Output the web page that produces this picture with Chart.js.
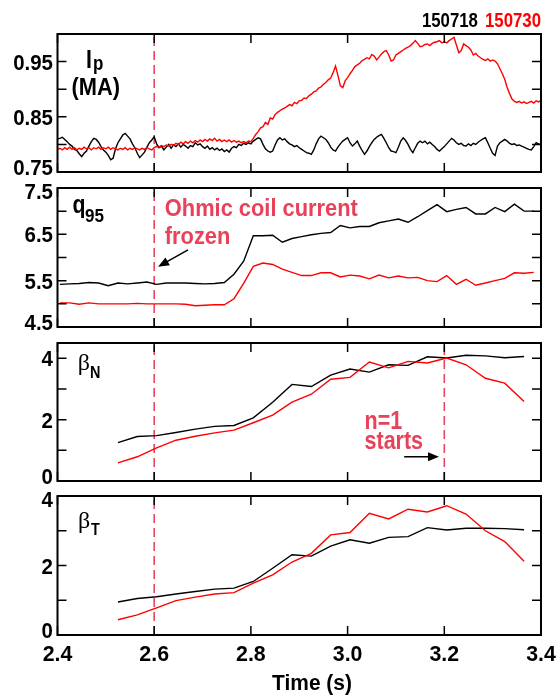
<!DOCTYPE html>
<html>
<head>
<meta charset="utf-8">
<script src="https://cdn.jsdelivr.net/npm/chart.js@4.4.1/dist/chart.umd.min.js"></script>
<style>
  body { margin: 0; background: #fff; width: 560px; height: 697px; position: relative; overflow: hidden; }
  canvas { position: absolute; left: 0; }
</style>
</head>
<body>
<canvas id="cIp" width="560" height="180" style="top:0px"></canvas>
<canvas id="cQ95" width="560" height="155" style="top:180px"></canvas>
<canvas id="cBetaN" width="560" height="153" style="top:335px"></canvas>
<canvas id="cBetaT" width="560" height="209" style="top:488px"></canvas>
<script>
// Ip (MA), sampled every 5 ms from 2.400 s
const ipStart = 2.4;
const ipStep = 0.005;
const ip150718 = [
  0.810, 0.811, 0.813, 0.809, 0.805, 0.800, 0.797, 0.791, 0.789, 0.783,
  0.778, 0.784, 0.788, 0.797, 0.805, 0.811, 0.809, 0.804, 0.796, 0.790,
  0.786, 0.780, 0.772, 0.775, 0.792, 0.803, 0.810, 0.817, 0.820, 0.815,
  0.810, 0.801, 0.794, 0.784, 0.776, 0.781, 0.786, 0.795, 0.803, 0.808,
  0.814, 0.801, 0.794, 0.797, 0.790, 0.795, 0.800, 0.793, 0.799, 0.796,
  0.801, 0.795, 0.800, 0.797, 0.793, 0.798, 0.796, 0.803, 0.799, 0.801,
  0.796, 0.793, 0.797, 0.791, 0.794, 0.790, 0.793, 0.789, 0.792, 0.787,
  0.790, 0.786, 0.793, 0.796, 0.794, 0.800, 0.798, 0.802, 0.800, 0.803,
  0.801, 0.806, 0.809, 0.812, 0.810, 0.800, 0.792, 0.788, 0.786, 0.788,
  0.799, 0.808, 0.812, 0.808, 0.810, 0.805, 0.801, 0.799, 0.796, 0.798,
  0.794, 0.791, 0.788, 0.785, 0.784, 0.782, 0.790, 0.801, 0.810, 0.815,
  0.812, 0.809, 0.803, 0.795, 0.790, 0.788, 0.795, 0.801, 0.806, 0.809,
  0.812, 0.803, 0.797, 0.801, 0.806, 0.797, 0.789, 0.782, 0.788, 0.796,
  0.803, 0.809, 0.813, 0.816, 0.818, 0.811, 0.803, 0.794, 0.788, 0.787,
  0.785, 0.795, 0.806, 0.812, 0.807, 0.800, 0.791, 0.785, 0.794, 0.802,
  0.806, 0.803, 0.806, 0.801, 0.804, 0.800, 0.796, 0.791, 0.788, 0.792,
  0.796, 0.801, 0.806, 0.811, 0.808, 0.803, 0.800, 0.802, 0.798, 0.797,
  0.801, 0.798, 0.802, 0.800, 0.804, 0.807, 0.810, 0.812, 0.803, 0.793,
  0.784, 0.780, 0.797, 0.803, 0.806, 0.809, 0.806, 0.802, 0.800, 0.801,
  0.798, 0.799, 0.797, 0.795, 0.793, 0.791, 0.790, 0.796, 0.803, 0.801,
  0.800
];
const ip150730 = [
  0.791, 0.793, 0.790, 0.794, 0.791, 0.795, 0.791, 0.794, 0.790, 0.793,
  0.791, 0.795, 0.792, 0.794, 0.790, 0.794, 0.792, 0.795, 0.791, 0.794,
  0.792, 0.795, 0.791, 0.794, 0.792, 0.790, 0.793, 0.791, 0.794, 0.790,
  0.793, 0.791, 0.794, 0.792, 0.790, 0.793, 0.791, 0.794, 0.792, 0.790,
  0.794, 0.796, 0.795, 0.798, 0.796, 0.799, 0.797, 0.800, 0.798, 0.802,
  0.800, 0.804, 0.801, 0.805, 0.802, 0.806, 0.803, 0.807, 0.804, 0.808,
  0.805, 0.809, 0.806, 0.810, 0.807, 0.811, 0.806, 0.809, 0.805, 0.808,
  0.805, 0.808, 0.804, 0.807, 0.804, 0.806, 0.803, 0.805, 0.803, 0.806,
  0.805, 0.811, 0.818, 0.823, 0.830, 0.832, 0.840, 0.836, 0.848, 0.846,
  0.854, 0.858, 0.861, 0.864, 0.866, 0.869, 0.872, 0.870, 0.876, 0.874,
  0.879, 0.880, 0.884, 0.883, 0.888, 0.891, 0.895, 0.897, 0.902, 0.904,
  0.909, 0.912, 0.917, 0.920, 0.930, 0.942, 0.925, 0.906, 0.903, 0.915,
  0.921, 0.928, 0.934, 0.941, 0.944, 0.947, 0.952, 0.954, 0.957, 0.955,
  0.963, 0.960, 0.953, 0.958, 0.964, 0.968, 0.970, 0.962, 0.951, 0.953,
  0.962, 0.965, 0.968, 0.971, 0.974, 0.976, 0.979, 0.983, 0.988, 0.983,
  0.977, 0.978, 0.981, 0.982, 0.979, 0.983, 0.985, 0.986, 0.988, 0.984,
  0.986, 0.984, 0.988, 0.991, 0.994, 0.980, 0.966, 0.970, 0.982, 0.979,
  0.976, 0.971, 0.962, 0.965, 0.960, 0.957, 0.954, 0.952, 0.955, 0.951,
  0.953, 0.951, 0.946, 0.937, 0.928, 0.918, 0.903, 0.892, 0.882, 0.878,
  0.876, 0.878, 0.875, 0.877, 0.874, 0.876, 0.878, 0.875, 0.879, 0.877,
  0.880
];

// q95
const q95Time = [
  2.405, 2.425, 2.445, 2.465, 2.485, 2.505, 2.525, 2.545, 2.565, 2.585,
  2.605, 2.625, 2.645, 2.665, 2.685, 2.705, 2.725, 2.745, 2.765, 2.785,
  2.805, 2.825, 2.845, 2.865, 2.885, 2.905, 2.925, 2.945, 2.965, 2.985,
  3.005, 3.025, 3.045, 3.065, 3.085, 3.105, 3.125, 3.145, 3.165, 3.185,
  3.205, 3.225, 3.245, 3.265, 3.285, 3.305, 3.325, 3.345, 3.365, 3.385
];
const q95_150718 = [
  5.42, 5.43, 5.44, 5.46, 5.45, 5.39, 5.45, 5.43, 5.45, 5.47,
  5.42, 5.45, 5.45, 5.45, 5.44, 5.43, 5.44, 5.46, 5.64, 5.92,
  6.47, 6.47, 6.48, 6.33, 6.41, 6.45, 6.49, 6.52, 6.54, 6.69,
  6.64, 6.67, 6.67, 6.75, 6.79, 6.83, 6.76, 6.88, 7.01, 7.14,
  6.99, 7.04, 7.08, 6.94, 6.94, 7.08, 6.99, 7.15, 7.00, 7.00
];
const q95_150730 = [
  5.02, 5.02, 4.99, 5.02, 5.00, 5.00, 5.00, 5.00, 5.01, 5.00,
  5.00, 5.00, 5.00, 4.99, 4.96, 4.97, 4.98, 4.98, 5.11, 5.44,
  5.81, 5.88, 5.85, 5.75, 5.68, 5.61, 5.61, 5.67, 5.67, 5.58,
  5.62, 5.60, 5.54, 5.62, 5.56, 5.60, 5.56, 5.57, 5.50, 5.48,
  5.61, 5.42, 5.53, 5.40, 5.45, 5.50, 5.55, 5.67, 5.66, 5.68
];

// beta_N and beta_T
const betaTime = [
  2.525, 2.565, 2.605, 2.645, 2.685, 2.725, 2.765, 2.805, 2.845, 2.885, 2.925,
  2.965, 3.005, 3.045, 3.085, 3.125, 3.165, 3.205, 3.245, 3.285, 3.325, 3.365
];
const betaN150718 = [1.25, 1.45, 1.48, 1.58, 1.69, 1.78, 1.81, 2.06, 2.57, 3.15, 3.08,
                     3.45, 3.65, 3.55, 3.79, 3.77, 4.05, 4.01, 4.10, 4.08, 4.02, 4.06];
const betaN150730 = [0.59, 0.79, 1.08, 1.33, 1.46, 1.57, 1.66, 1.90, 2.15, 2.57, 2.83,
                     3.32, 3.38, 3.88, 3.69, 3.90, 3.85, 4.01, 3.79, 3.35, 3.19, 2.59];
const betaT150718 = [0.95, 1.05, 1.10, 1.18, 1.25, 1.32, 1.35, 1.54, 1.92, 2.31, 2.27,
                     2.56, 2.74, 2.64, 2.81, 2.83, 3.09, 3.02, 3.07, 3.07, 3.06, 3.03];
const betaT150730 = [0.44, 0.58, 0.78, 0.99, 1.09, 1.18, 1.22, 1.49, 1.73, 2.10, 2.35,
                     2.88, 2.95, 3.50, 3.34, 3.62, 3.54, 3.72, 3.48, 3.00, 2.69, 2.12];

// axes
const xTicks = [2.4, 2.6, 2.8, 3.0, 3.2, 3.4];
const ipMajor = [0.75, 0.85, 0.95];
const ipMinor = [0.8, 0.9];
const q95Major = [4.5, 5.5, 6.5, 7.5];
const q95Minor = [5.0, 6.0, 7.0];
const betaMajor = [0, 2, 4];
const betaMinor = [1, 3];

const ohmicFrozenTime = 2.6;
const n1StartTime = 3.2;

const SANS = "'Liberation Sans', Arial, Helvetica, sans-serif";
const SERIF = "'Liberation Serif', 'Times New Roman', serif";
const RED = '#ff0000';
const MARK = '#e8475f';
const NOTE = '#e8415a';

function txt(ctx, s, x, y, size, color, align, sx, weight, family) {
  ctx.save();
  ctx.font = (weight || 'bold') + ' ' + size + 'px ' + (family || SANS);
  ctx.fillStyle = color;
  ctx.textAlign = align || 'left';
  ctx.textBaseline = 'alphabetic';
  ctx.translate(x, y);
  ctx.scale(sx || 1, 1);
  ctx.fillText(s, 0, 0);
  const w = ctx.measureText(s).width * (sx || 1);
  ctx.restore();
  return w;
}

function arrow(ctx, x1, y1, x2, y2) {
  const ang = Math.atan2(y2 - y1, x2 - x1);
  const hl = 11, hw = 4.5;
  ctx.save();
  ctx.strokeStyle = '#000';
  ctx.fillStyle = '#000';
  ctx.lineWidth = 1.5;
  ctx.beginPath();
  ctx.moveTo(x1, y1);
  ctx.lineTo(x2 - hl * 0.8 * Math.cos(ang), y2 - hl * 0.8 * Math.sin(ang));
  ctx.stroke();
  ctx.beginPath();
  ctx.moveTo(x2, y2);
  ctx.lineTo(x2 - hl * Math.cos(ang) + hw * Math.sin(ang), y2 - hl * Math.sin(ang) - hw * Math.cos(ang));
  ctx.lineTo(x2 - hl * Math.cos(ang) - hw * Math.sin(ang), y2 - hl * Math.sin(ang) + hw * Math.cos(ang));
  ctx.closePath();
  ctx.fill();
  ctx.restore();
}

// frame, inward ticks on all sides, tick labels, plus panel text
const decoPlugin = {
  id: 'deco',
  afterDraw(chart, args, o) {
    const ctx = chart.ctx;
    const a = chart.chartArea;
    const x = chart.scales.x, y = chart.scales.y;
    ctx.save();
    ctx.strokeStyle = '#000';
    ctx.lineWidth = 1.5;
    ctx.beginPath();
    o.major.concat(o.minor).forEach(v => {
      const py = y.getPixelForValue(v);
      ctx.moveTo(a.left, py); ctx.lineTo(a.left + 9, py);
      ctx.moveTo(a.right, py); ctx.lineTo(a.right - 9, py);
    });
    xTicks.forEach(v => {
      const px = x.getPixelForValue(v);
      ctx.moveTo(px, a.top); ctx.lineTo(px, a.top + 9);
      ctx.moveTo(px, a.bottom); ctx.lineTo(px, a.bottom - 9);
    });
    ctx.stroke();
    ctx.lineWidth = 2;
    ctx.strokeRect(a.left, a.top, a.right - a.left, a.bottom - a.top);
    ctx.restore();

    o.major.forEach(v => {
      let py = y.getPixelForValue(v);
      if (Math.abs(py - a.bottom) < 1) py -= 5;
      if (Math.abs(py - a.top) < 1) py += 3;
      txt(ctx, v.toFixed(o.digits), a.left - 4.5, py + 8, 22, '#000', 'right', 0.93);
    });

    if (o.showTime) {
      xTicks.forEach(v => {
        txt(ctx, v.toFixed(1), x.getPixelForValue(v), a.bottom + 26, 22, '#000', 'center', 0.97);
      });
      txt(ctx, 'Time (s)', 312, a.bottom + 55, 22, '#000', 'center', 0.95);
    }
    if (o.extra) o.extra(ctx, a, x, y);
  }
};
Chart.register(decoPlugin);

function ipXY(vals) {
  return vals.map((v, i) => ({ x: ipStart + i * ipStep, y: v }));
}
function xy(times, vals) {
  return times.map((t, i) => ({ x: t, y: vals[i] }));
}
function series(data, color, order) {
  return { data: data, borderColor: color, borderWidth: 1.4, pointRadius: 0, tension: 0, order: order };
}
function vline(t, lo, hi) {
  return { data: [{ x: t, y: lo }, { x: t, y: hi }], borderColor: MARK, borderWidth: 1.6,
           borderDash: [9, 5], pointRadius: 0, order: 2 };
}

function makePanel(id, datasets, ymin, ymax, pad, deco) {
  return new Chart(document.getElementById(id), {
    type: 'line',
    data: { datasets: datasets },
    options: {
      responsive: false,
      animation: false,
      events: [],
      layout: { padding: { left: 57.5, right: 19, top: pad[0], bottom: pad[1] } },
      scales: {
        x: { type: 'linear', min: 2.4, max: 3.4, display: false },
        y: { type: 'linear', min: ymin, max: ymax, display: false }
      },
      plugins: { legend: { display: false }, tooltip: { enabled: false }, deco: deco }
    }
  });
}

makePanel('cIp', [
  series(ipXY(ip150730), RED, 0),
  series(ipXY(ip150718), '#000', 1),
  vline(ohmicFrozenTime, 0.75, 1.0)
], 0.75, 1.0, [34, 8], {
  major: ipMajor, minor: ipMinor, digits: 2,
  extra(ctx, a) {
    const w = txt(ctx, '150730', a.right, a.top - 7, 20, RED, 'right', 0.84);
    txt(ctx, '150718', a.right - w - 7, a.top - 7, 20, '#000', 'right', 0.84);
    txt(ctx, 'I', a.left + 28.5, a.top + 34, 25, '#000', 'left', 0.85);
    txt(ctx, 'p', a.left + 35.5, a.top + 35.5, 20, '#000', 'left', 0.85);
    txt(ctx, '(MA)', a.left + 14, a.top + 61, 24, '#000', 'left', 0.91);
  }
});

makePanel('cQ95', [
  series(xy(q95Time, q95_150730), RED, 0),
  series(xy(q95Time, q95_150718), '#000', 1),
  vline(ohmicFrozenTime, 4.5, 7.5)
], 4.5, 7.5, [8, 8], {
  major: q95Major, minor: q95Minor, digits: 1,
  extra(ctx, a, x, y) {
    txt(ctx, 'q', a.left + 15, a.top + 25.3, 25, '#000', 'left', 0.85);
    txt(ctx, '95', a.left + 27.5, a.top + 33.7, 19, '#000', 'left', 0.9);
    txt(ctx, 'Ohmic coil current', x.getPixelForValue(2.622), y.getPixelForValue(6.885), 24, NOTE, 'left', 0.91);
    txt(ctx, 'frozen', x.getPixelForValue(2.622), y.getPixelForValue(6.29), 24, NOTE, 'left', 0.91);
    arrow(ctx, x.getPixelForValue(2.670), y.getPixelForValue(6.163),
               x.getPixelForValue(2.608), y.getPixelForValue(5.80));
  }
});

makePanel('cBetaN', [
  series(xy(betaTime, betaN150730), RED, 0),
  series(xy(betaTime, betaN150718), '#000', 1),
  vline(ohmicFrozenTime, 0, 4.5),
  vline(n1StartTime, 0, 4.5)
], 0, 4.5, [8, 7], {
  major: betaMajor, minor: betaMinor, digits: 0,
  extra(ctx, a, x, y) {
    txt(ctx, '\u03b2', a.left + 20.2, a.top + 27, 24, '#000', 'left', 1, 'normal', SERIF);
    txt(ctx, 'N', a.left + 32.5, a.top + 35, 16, '#000', 'left', 0.9);
    txt(ctx, 'n=1', x.getPixelForValue(3.035), y.getPixelForValue(1.69), 25, NOTE, 'left', 0.86);
    txt(ctx, 'starts', x.getPixelForValue(3.035), y.getPixelForValue(1.03), 25, NOTE, 'left', 0.86);
    arrow(ctx, x.getPixelForValue(3.117), y.getPixelForValue(0.79),
               x.getPixelForValue(3.189), y.getPixelForValue(0.79));
  }
});

makePanel('cBetaT', [
  series(xy(betaTime, betaT150730), RED, 0),
  series(xy(betaTime, betaT150718), '#000', 1),
  vline(ohmicFrozenTime, 0, 4)
], 0, 4, [8, 62], {
  major: betaMajor, minor: betaMinor, digits: 0, showTime: true,
  extra(ctx, a) {
    txt(ctx, '\u03b2', a.left + 20.5, a.top + 32, 24, '#000', 'left', 1, 'normal', SERIF);
    txt(ctx, 'T', a.left + 33.5, a.top + 39, 16, '#000', 'left', 0.9);
  }
});
</script>
</body>
</html>
